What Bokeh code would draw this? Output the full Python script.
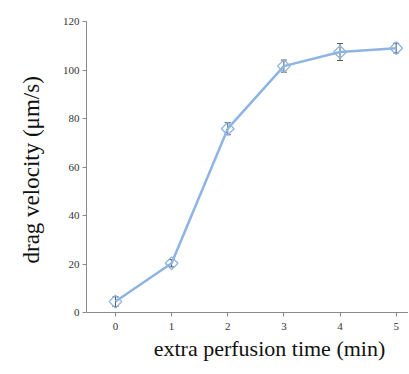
import math
from bokeh.plotting import figure
from bokeh.models import ColumnDataSource, Whisker, Range1d, FixedTicker
from bokeh.embed import file_html
from bokeh.resources import INLINE

times = [0, 1, 2, 3, 4, 5]
velocity = [4.5, 20.3, 75.8, 101.6, 107.4, 109.0]
err = [2.0, 1.5, 2.5, 2.5, 3.5, 2.0]
y_ticks = [0, 20, 40, 60, 80, 100, 120]

src = ColumnDataSource(dict(
    x=times, y=velocity,
    lo=[v - e for v, e in zip(velocity, err)],
    hi=[v + e for v, e in zip(velocity, err)],
))

p = figure(width=408, height=372, output_backend="svg", toolbar_location=None,
           x_range=Range1d(-0.516, 5.22), y_range=Range1d(0, 120),
           min_border_left=86, min_border_right=0, min_border_top=21, min_border_bottom=60)
p.outline_line_color = None
p.grid.visible = False

blue = "#8db4e2"
p.line("x", "y", source=src, line_color=blue, line_width=2.5)
w = Whisker(source=src, base="x", lower="lo", upper="hi", line_color="#555555", line_width=1)
w.upper_head.size = 6
w.lower_head.size = 6
w.upper_head.line_color = "#555555"
w.lower_head.line_color = "#555555"
p.add_layout(w)
p.scatter("x", "y", source=src, marker="square", size=9, angle=math.pi / 4,
          fill_color="white", fill_alpha=0.0, line_color=blue, line_width=1.3)

for ax in (p.xaxis[0], p.yaxis[0]):
    ax.axis_line_color = "#8a8a8a"
    ax.major_tick_line_color = "#8a8a8a"
    ax.major_tick_out = 4
    ax.major_tick_in = 0
    ax.minor_tick_line_color = None
    ax.major_label_text_font = "Liberation Serif"
    ax.major_label_text_font_size = "11px"
    ax.major_label_text_color = "#333333"
    ax.axis_label_text_font = "Liberation Serif"
    ax.axis_label_text_font_style = "normal"
    ax.axis_label_text_color = "#111111"

p.xaxis.axis_label_text_font_size = "22px"
p.yaxis.axis_label_text_font_size = "23px"
p.xaxis.ticker = FixedTicker(ticks=times)
p.yaxis.ticker = FixedTicker(ticks=y_ticks)
p.xaxis.axis_label = "\u00a0" * 8 + "extra perfusion time (min)"
p.yaxis.axis_label = "drag  velocity (\u03bcm/s)"
p.xaxis.axis_label_standoff = 3
p.yaxis.axis_label_standoff = 16
p.xaxis.major_label_standoff = 6
p.yaxis.major_label_standoff = 3

open("out.html", "w").write(file_html(p, INLINE))
